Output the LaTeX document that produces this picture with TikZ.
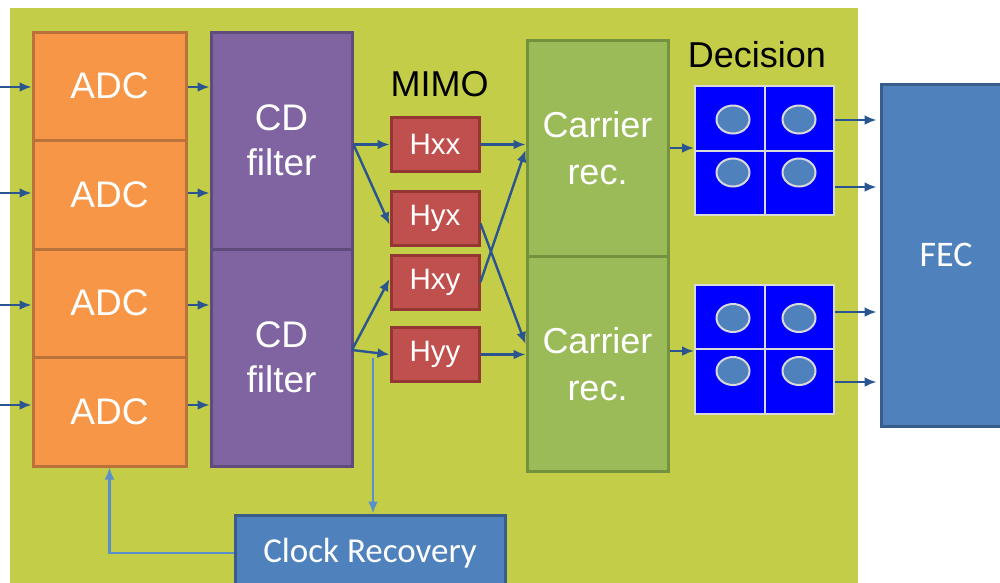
\documentclass[tikz,border=0pt]{standalone}
\usepackage{fontspec}
\setmainfont{Liberation Sans}
\newfontfamily\calibri{Carlito}
\usetikzlibrary{arrows.meta,calc}

\definecolor{panel}{HTML}{C3CD47}
\definecolor{adcfill}{HTML}{F79646}
\definecolor{adcline}{HTML}{B9733A}
\definecolor{cdfill}{HTML}{8064A2}
\definecolor{cdline}{HTML}{5F4B7C}
\definecolor{hfill}{HTML}{C0504D}
\definecolor{hline}{HTML}{943634}
\definecolor{crfill}{HTML}{9BBB59}
\definecolor{crline}{HTML}{74913F}
\definecolor{decfill}{HTML}{0000FF}
\definecolor{fecfill}{HTML}{4F81BD}
\definecolor{fecline}{HTML}{385D8A}
\definecolor{sig}{HTML}{2A5590}
\definecolor{clk}{HTML}{5B8FCB}

\tikzset{
  blk/.style={draw, line width=3, inner sep=0pt, align=center, text=white},
  adcbox/.style={blk, fill=adcfill, draw=adcline, minimum width=153, minimum height=108.5,
    font=\fontsize{37}{45}\selectfont},
  cdbox/.style={blk, fill=cdfill, draw=cdline, minimum width=141, minimum height=217,
    font=\fontsize{37}{45}\selectfont},
  hbox/.style={blk, fill=hfill, draw=hline, minimum width=88, minimum height=54,
    font=\fontsize{29.5}{30}\selectfont},
  crbox/.style={blk, fill=crfill, draw=crline, minimum width=141, minimum height=215.5,
    font=\fontsize{36}{47}\selectfont},
  decbox/.style={draw=white!85!black, line width=2, fill=decfill, inner sep=0pt,
    minimum width=139, minimum height=129},
  dot/.style={draw=white!85!black, line width=2, fill=fecfill},
  fecbox/.style={blk, fill=fecfill, draw=fecline, font=\calibri\fontsize{36}{40}\selectfont},
  lbl/.style={anchor=base, inner sep=0pt, text=black, font=\fontsize{36}{40}\selectfont},
  arr/.style={draw=sig, line width=2.4, -{Latex[length=12,width=10]}},
  clkarr/.style={draw=clk, line width=2.4, -{Latex[length=12,width=10]}},
}

\begin{document}
\begin{tikzpicture}[x=1pt,y=-1pt]
\clip (0,0) rectangle (1000,582);
\fill[white] (0,0) rectangle (1000,582);
\fill[panel] (10,8) rectangle (858,600);

% analog-to-digital converters
\node[adcbox] (adc1) at (109.5,86.25) {ADC};
\node[adcbox] (adc2) at (109.5,194.75) {ADC};
\node[adcbox] (adc3) at (109.5,303.25) {ADC};
\node[adcbox] (adc4) at (109.5,411.75) {ADC};

% chromatic dispersion filters
\node[cdbox] (cd1) at (281.5,140.5) {CD\\filter};
\node[cdbox] (cd2) at (281.5,357.5) {CD\\filter};

% MIMO equaliser taps
\node[lbl] (mimo) at (439.5,96) {MIMO};
\node[hbox] (hxx) at (435,144.5) {Hxx};
\node[hbox] (hyx) at (435,218.5) {Hyx};
\node[hbox] (hxy) at (435,282) {Hxy};
\node[hbox] (hyy) at (435,354.5) {Hyy};

% carrier recovery
\node[crbox] (cr1) at (597.5,148.5) {Carrier\\rec.};
\node[crbox] (cr2) at (597.5,364) {Carrier\\rec.};

% decision grids
\node[lbl] (decl) at (757,67) {Decision};
\node[decbox] (dec1) at (764.5,150.5) {};
\node[decbox] (dec2) at (764.5,349) {};
\foreach \d in {dec1,dec2}{
  \draw[white!85!black, line width=2] (\d.north) -- (\d.south) (\d.west) -- (\d.east);
  \foreach \dx/\dy in {-31.5/-31, 34.5/-31, -31.5/22, 34.5/22}
    \draw[dot] ($(\d)+(\dx,\dy)$) ellipse (16.5 and 14);
}

% forward error correction
\node[fecbox, minimum width=130, minimum height=342] (fec) at (946,255) {FEC};

% clock recovery
\node[blk, fill=fecfill, draw=fecline, minimum width=270, minimum height=76,
  font=\calibri\fontsize{35}{40}\selectfont] (clock) at (370,553) {Clock Recovery};

% input signals
\coordinate (in1) at (0,87);
\coordinate (in2) at (0,193);
\coordinate (in3) at (0,305);
\coordinate (in4) at (0,405);
\foreach \i in {1,2,3,4}{
  \draw[arr] (in\i) -- (in\i -| adc\i.west);
}
\draw[arr] (adc1.east |- in1) -- (cd1.west |- in1);
\draw[arr] (adc2.east |- in2) -- (cd1.west |- in2);
\draw[arr] (adc3.east |- in3) -- (cd2.west |- in3);
\draw[arr] (adc4.east |- in4) -- (cd2.west |- in4);

% CD filters to MIMO taps
\coordinate (sx) at (cd1.east |- hxx);
\coordinate (sy) at (352,350);
\draw[arr] (sx) -- (hxx.west);
\draw[arr] (sx) -- ([yshift=-6]hyx.west);
\draw[arr] (sy) -- ([yshift=3]hxy.west);
\draw[arr] (sy) -- (hyy.west);

% MIMO taps to carrier recovery
\draw[arr] (hxx.east) -- (cr1.west |- hxx);
\draw[arr] (hxy.east) -- ($(cr1.west)+(0,1.5)$);
\draw[arr] ([yshift=-5]hyx.east) -- ($(cr2.west)+(0,-20)$);
\draw[arr] (hyy.east) -- (cr2.west |- hyy);

% carrier recovery to decision
\draw[arr] (cr1.east |- 0,148) -- (dec1.west |- 0,148);
\draw[arr] (cr2.east |- 0,351) -- (dec2.west |- 0,351);

% decision to FEC
\foreach \y/\d in {120/dec1,187/dec1,312/dec2,382/dec2}{
  \draw[arr, shorten >=3] (\d.east |- 0,\y) -- (fec.west |- 0,\y);
}

% timing loop
\coordinate (tap) at (373,358);
\draw[clkarr] (tap) -- (tap |- clock.north);
\draw[clkarr] (clock.west) -| (adc4.south);
\end{tikzpicture}
\end{document}
